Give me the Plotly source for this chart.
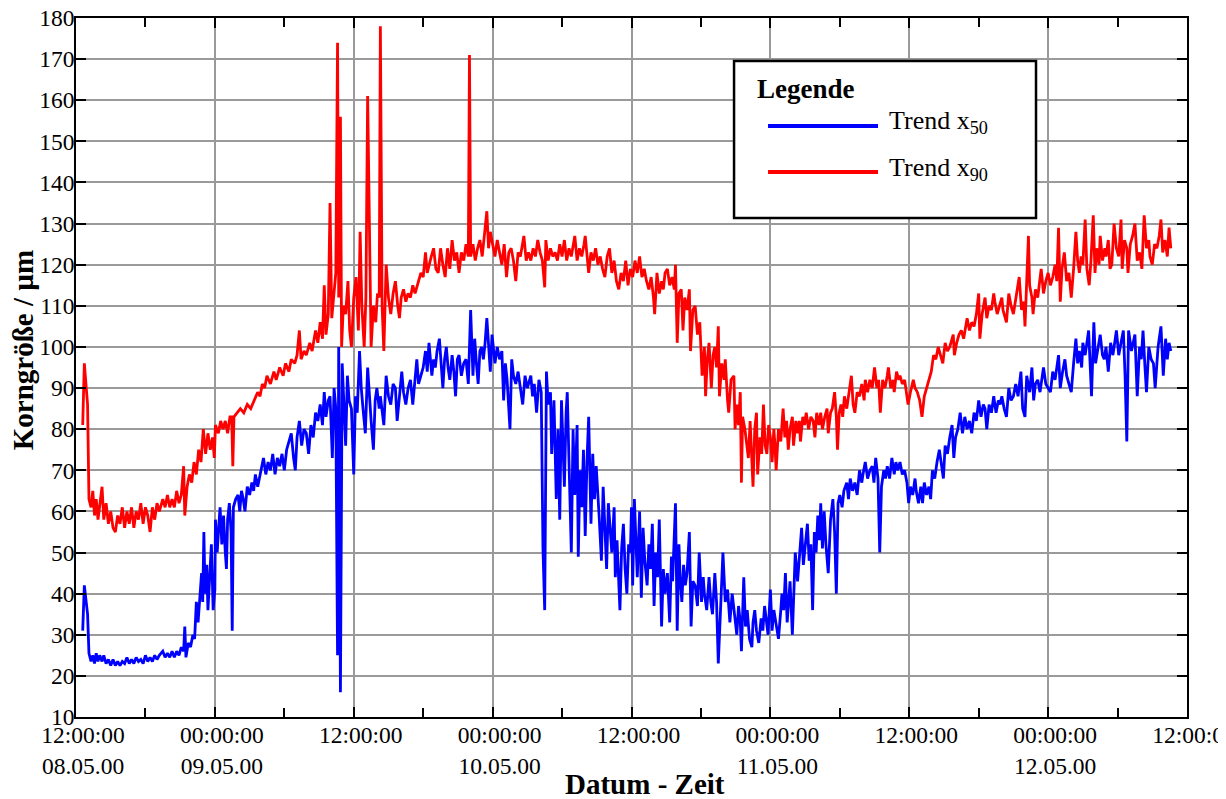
import plotly.graph_objects as go

# time in hours since 08.05.00 12:00:00
red_h = [0.58,0.72,1.0,1.12,1.3,1.45,1.6,1.75,1.9,2.05,2.25,2.4,2.6,2.8,3.0,3.2,3.4,3.6,3.8,4.0,4.2,4.4,4.6,4.8,5.0,5.2,5.4,5.6,5.8,6.0,6.2,6.4,6.6,6.8,7.0,7.2,7.5,7.7,7.9,8.1,8.3,8.5,8.7,8.9,9.1,9.3,9.4,9.6,9.8,10.0,10.2,10.4,10.6,10.8,11.0,11.2,11.4,11.6,11.8,11.95,12.05,12.3,12.5,12.7,12.9,13.1,13.3,13.45,13.55,13.65,13.9,14.2,14.5,14.8,15.1,15.4,15.7,15.9,16.1,16.3,16.5,16.8,17.1,17.3,17.6,17.9,18.1,18.4,18.6,18.9,19.1,19.3,19.45,19.7,19.9,20.2,20.4,20.7,20.9,21.1,21.3,21.45,21.6,21.8,21.95,22.1,22.3,22.45,22.6,22.7,22.85,22.95,23.1,23.3,23.5,23.65,23.8,24.0,24.2,24.4,24.55,24.7,24.9,25.05,25.2,25.35,25.5,25.7,25.9,26.05,26.2,26.3,26.45,26.6,26.8,27.0,27.2,27.4,27.6,27.8,27.95,28.1,28.3,28.5,28.7,28.9,29.1,29.3,29.6,29.8,30.0,30.2,30.35,30.5,30.7,30.9,31.1,31.3,31.5,31.7,31.9,32.1,32.3,32.5,32.7,32.9,33.1,33.3,33.5,33.7,33.9,34.0,34.1,34.3,34.5,34.7,34.9,35.1,35.3,35.5,35.65,35.8,36.0,36.2,36.4,36.6,36.8,37.0,37.2,37.4,37.6,37.8,38.0,38.2,38.4,38.7,38.9,39.1,39.3,39.5,39.7,39.9,40.1,40.3,40.5,40.6,40.8,41.0,41.2,41.4,41.6,41.8,42.0,42.2,42.4,42.6,42.8,43.1,43.3,43.5,43.7,43.9,44.0,44.3,44.5,44.7,44.9,45.1,45.3,45.5,45.7,45.9,46.1,46.3,46.5,46.7,46.9,47.1,47.3,47.5,47.7,47.9,48.1,48.3,48.5,48.7,48.9,49.1,49.3,49.5,49.7,49.9,50.0,50.2,50.4,50.6,50.75,50.9,51.1,51.3,51.5,51.7,51.8,51.95,52.1,52.3,52.45,52.6,52.8,53.0,53.1,53.3,53.5,53.7,53.9,54.1,54.3,54.4,54.55,54.7,54.9,55.05,55.2,55.35,55.5,55.6,55.8,56.0,56.1,56.3,56.4,56.6,56.85,56.95,57.1,57.25,57.4,57.5,57.6,57.8,57.95,58.1,58.25,58.4,58.5,58.65,58.8,58.9,59.1,59.25,59.4,59.55,59.7,59.85,60.0,60.15,60.3,60.4,60.5,60.7,60.9,61.1,61.25,61.4,61.55,61.7,61.9,62.0,62.2,62.35,62.5,62.6,62.8,62.95,63.1,63.3,63.5,63.7,63.85,64.0,64.2,64.35,64.5,64.7,64.9,65.0,65.2,65.35,65.55,65.7,65.8,65.95,66.1,66.25,66.4,66.6,66.8,67.0,67.15,67.3,67.5,67.7,67.9,68.1,68.2,68.4,68.6,68.8,69.0,69.2,69.35,69.5,69.7,69.9,70.1,70.2,70.4,70.6,70.7,70.9,71.1,71.2,71.4,71.6,71.75,71.9,72.1,72.35,72.5,72.7,72.9,73.1,73.3,73.5,73.7,73.9,74.1,74.3,74.5,74.7,74.9,75.1,75.3,75.5,75.8,75.9,76.1,76.3,76.5,76.7,76.9,77.0,77.2,77.4,77.6,77.8,78.0,78.1,78.3,78.55,78.7,78.9,79.1,79.3,79.4,79.6,79.8,80.0,80.1,80.4,80.6,80.8,81.0,81.2,81.3,81.5,81.7,81.9,82.0,82.3,82.4,82.6,82.7,82.9,83.1,83.4,83.6,83.8,84.0,84.2,84.4,84.6,84.75,84.9,85.05,85.2,85.4,85.6,85.8,86.0,86.2,86.4,86.55,86.7,86.85,87.0,87.2,87.35,87.55,87.7,87.9,88.05,88.2,88.4,88.5,88.7,88.9,89.0,89.2,89.35,89.5,89.7,89.9,90.1,90.3,90.4,90.6,90.8,90.9,91.1,91.3,91.5,91.7,91.9,92.1,92.3,92.5,92.7,92.8,93.0,93.2,93.4,93.6,93.75,93.9,94.1,94.3,94.45,94.6]
red_v = [81,96,86,63,61,65,59,63,58,62,66,58,62,57,60,56,55,59,57,61,56,60,57,61,56,60,58,62,57,61,59,55,61,58,62,60,63,61,64,61,63,61,65,62,64,71,59,66,69,67,72,69,75,72,80,74,79,75,78,73,81,79,82,80,82,79,83,83,71,83,84,85,84,86,85,87,89,88,91,90,93,91,94,92,95,93,96,94,97,96,98,104,97,99,98,101,99,104,101,106,102,115,103,108,135,107,113,118,174,112,156,100,110,108,116,104,100,112,117,104,128,110,100,112,161,125,100,110,106,113,112,178,110,99,120,112,108,113,116,110,107,112,114,111,113,112,115,113,116,118,117,123,118,120,122,124,119,118,124,120,117,124,119,126,121,123,118,123,121,125,122,171,122,125,121,124,126,122,127,133,124,128,125,122,126,123,120,125,117,123,124,121,116,123,122,127,121,123,121,124,122,126,123,121,114.5,126,121,124,122,123,121,125,122,126,121,124,122,127,121,124,122,125,127,118,123,121,124,120,122,119,117,122,124,118,121,116,114,118,116,121,115,119,117,121,118,122,117,119,116,114,117,112,108,118,113,116,114,118,119,115,117,114,120,101,113,114,104,112,109,114,99,109,110,103,106,93,100,88,97,101,90,98,100,95,105,88,96,92,97,87,84,92,93,80,86,81,89,67,83,80,76,73,82,74,66,80,84,69,78,74,86,76,74,81,78,72,80,76,70,80,77,85,78,82,75,80,83,76,82,79,82,77,83,81,84,80,83,82,78,84,81,84,80,83,85,79,84,85,89,83,75,84,86,83,88,85,89,93,86,84,89,88,91,87,92,89,92,90,95,90,92,84,92,90,93,95,90,92,89,94,92,93,91,92,89,86,89,92,90,89,87,83,88,90,92,94,98,97,100,98,96,101,99,100,103,98,101,103,104,102,105,107,104,106,105,108,113,102,108,112,107,110,109,113,111,108,110,112,109,106,113,110,108,112,114,117,109,111,105,127,115,112,108,114,112,119,113,116,118,115,117,120,116,129,111,119,123,116,118,112,119,128,121,118,122,120,131,119,115,121,132,118,124,120,127,121,124,122,126,119,120,130,124,122,131,119,126,124,118,125,127,130,121,123,119,132,124,126,122,120,125,124,127,131,123,126,122,129,124]

blue_h = [0.58,0.72,1.0,1.12,1.3,1.45,1.6,1.75,1.9,2.05,2.25,2.4,2.6,2.8,3.0,3.2,3.4,3.6,3.8,4.0,4.2,4.4,4.6,4.8,5.0,5.2,5.4,5.6,5.8,6.0,6.2,6.4,6.6,6.8,7.0,7.2,7.5,7.7,7.9,8.1,8.3,8.5,8.7,8.9,9.1,9.3,9.4,9.5,9.7,9.9,10.1,10.25,10.4,10.55,10.7,10.85,10.95,11.05,11.15,11.3,11.4,11.55,11.7,11.85,12.0,12.05,12.2,12.35,12.45,12.6,12.75,12.9,13.0,13.1,13.25,13.4,13.5,13.6,13.8,14.0,14.15,14.3,14.45,14.6,14.8,15.0,15.2,15.35,15.5,15.7,15.85,16.0,16.2,16.4,16.6,16.8,17.0,17.2,17.4,17.6,17.8,18.0,18.2,18.4,18.6,18.8,18.95,19.1,19.3,19.5,19.7,19.9,20.1,20.3,20.5,20.7,20.9,21.1,21.3,21.45,21.6,21.8,21.95,22.15,22.3,22.45,22.6,22.7,22.85,23.0,23.15,23.3,23.45,23.6,23.8,24.0,24.15,24.3,24.5,24.65,24.8,25.0,25.2,25.35,25.5,25.7,25.85,26.0,26.2,26.3,26.5,26.6,26.8,27.0,27.2,27.4,27.6,27.75,27.95,28.15,28.3,28.5,28.7,28.9,29.1,29.3,29.45,29.6,29.8,30.0,30.2,30.35,30.5,30.75,30.9,31.05,31.2,31.4,31.55,31.7,31.85,32.0,32.15,32.3,32.5,32.65,32.8,32.95,33.1,33.3,33.5,33.7,33.9,34.1,34.3,34.45,34.6,34.75,34.9,35.05,35.2,35.35,35.5,35.65,35.8,35.95,36.1,36.2,36.4,36.6,36.8,36.95,37.1,37.25,37.5,37.65,37.8,38.0,38.2,38.4,38.6,38.8,39.0,39.3,39.45,39.6,39.8,40.0,40.2,40.35,40.5,40.65,40.8,41.0,41.1,41.3,41.5,41.65,41.8,41.95,42.1,42.2,42.35,42.45,42.6,42.8,42.95,43.1,43.3,43.4,43.55,43.7,43.85,44.0,44.15,44.3,44.5,44.65,44.8,44.95,45.2,45.4,45.55,45.7,45.85,46.0,46.15,46.3,46.5,46.6,46.75,46.9,47.0,47.15,47.3,47.45,47.6,47.75,47.9,48.0,48.1,48.25,48.4,48.5,48.7,48.85,49.0,49.15,49.35,49.5,49.65,49.8,49.95,50.1,50.25,50.4,50.6,50.75,50.9,51.1,51.3,51.45,51.55,51.8,51.95,52.1,52.2,52.35,52.5,52.65,52.8,53.0,53.15,53.3,53.5,53.7,53.85,54.05,54.2,54.3,54.5,54.7,54.85,55.0,55.2,55.35,55.5,55.65,55.8,55.9,56.1,56.3,56.5,56.7,56.9,57.1,57.25,57.4,57.5,57.7,57.85,58.0,58.2,58.4,58.5,58.65,58.8,59.0,59.2,59.35,59.5,59.65,59.8,60.0,60.15,60.3,60.4,60.55,60.7,60.9,61.0,61.15,61.3,61.45,61.6,61.7,61.9,62.05,62.15,62.35,62.5,62.7,62.85,63.0,63.2,63.35,63.5,63.65,63.8,63.95,64.1,64.25,64.35,64.5,64.65,64.8,65.0,65.2,65.4,65.55,65.7,65.85,66.0,66.2,66.35,66.6,66.75,66.9,67.1,67.3,67.5,67.7,67.9,68.0,68.2,68.4,68.6,68.8,68.95,69.1,69.3,69.45,69.6,69.8,69.95,70.1,70.3,70.5,70.7,70.85,71.0,71.2,71.4,71.6,71.8,71.95,72.1,72.3,72.5,72.6,72.8,73.0,73.15,73.3,73.5,73.7,73.85,74.0,74.2,74.4,74.6,74.8,74.95,75.1,75.3,75.5,75.7,75.85,76.0,76.2,76.4,76.6,76.8,77.0,77.2,77.4,77.6,77.8,78.0,78.2,78.4,78.55,78.7,78.9,79.1,79.3,79.5,79.7,79.85,80.0,80.2,80.4,80.6,80.8,81.0,81.2,81.4,81.65,81.8,82.0,82.15,82.4,82.6,82.75,82.9,83.1,83.3,83.6,83.8,84.0,84.2,84.4,84.6,84.9,85.05,85.25,85.45,85.6,85.8,86.0,86.2,86.4,86.55,86.7,86.9,87.0,87.2,87.5,87.75,87.95,88.1,88.3,88.5,88.7,88.85,89.0,89.2,89.4,89.6,89.9,90.1,90.3,90.5,90.65,90.8,90.95,91.2,91.35,91.5,91.7,91.9,92.05,92.2,92.35,92.5,92.7,92.9,93.1,93.25,93.5,93.75,93.95,94.15,94.3,94.45,94.6]
blue_v = [31,42,35,25.5,23.5,25,23,25.5,23.5,25,23.5,25,23,24,22.5,24,22.5,23.5,22.5,23.5,23,24.5,23,24,23,24.5,23.5,24,23,25,23.5,24.5,23.5,25,24,25,26,24.5,25.5,24.5,26,24.5,26,25,27,26,32,24.5,28,27,30,29,38,33,39,45,38,55,40,47,36,43,52,36,41,58,50,57,61,52,59,50,46,58,62,55,31,61,63,64,60,65,63,60,66,64,67,65,69,66,68,70,73,69,72,70,74,69,73,71,74,70,75,77,79,73,70,78,82,76,80,79,74,81,78,84,82,86,81,89,83,87,88,73,90,85,25,100,16,96,85,76,93,87,85,69,88,84,99,90,85,79,95,88,82,75,87,90,85,88,83,81,93,88,86,91,90,82,88,94,89,86,90,92,86,92,97,91,93,95,99,94,101,93,97,95,99,102,96,90,97,100,95,92,98,94,88,97,98,93,96,97,91,109,93,102,96,91,99,100,97,101,107,99,94,103,98,96,100,97,99,87,96,92,80,97,93,91,94,90,86,93,90,93,88,91,84,92,89,51,36,94,86,89,74,87,63,80,58,87,76,66,84,89,72,50,80,64,81,49,70,61,75,54,72,83,57,74,63,71,59,48,66,55,46,62,57,50,61,44,53,41,36,51,57,46,40,52,50,61,42,63,48,44,60,39,56,48,42,52,46,57,37,50,44,58,32,46,40,45,33,49,43,62,31,52,44,38,47,42,45,55,32,43,42,37,50,38,44,40,36,44,38,35,45,38,23,35,43,50,38,41,33,40,35,30,37,33,26,44,32,36,29,27,33,36,31,28,34,31,37,33,30,41,31,36,34,31,29,36,40,36,45,33,40,43,30,41,50,43,49,56,47,51,57,48,52,36,55,50,59,53,62,51,60,52,45,58,63,55,40,62,64,61,65,67,63,68,65,67,64,70,67,69,72,68,70,71,67,73,68,50,66,70,68,71,68,73,69,72,70,72,69,70,67,62,66,64,68,65,62,66,62,67,64,66,63,70,68,72,75,71,68,76,74,78,81,73,78,80,84,79,83,80,82,79,84,82,87,83,86,85,80,86,84,88,84,87,86,88,85,83,90,87,88,91,88,94,85,83,93,89,95,87,91,92,89,95,91,90,89,94,92,98,90,94,97,93,91,89,96,102,96,99,95,101,98,104,88,106,96,100,103,98,97,100,94,101,98,104,98,101,104,93,77,104,99,101,103,88,100,97,104,96,89,100,97,96,90,100,105,93,102,97,101,99]

tick_vals = [0, 12, 24, 36, 48, 60, 72, 84, 96]
tick_text = ["12:00:00<br>08.05.00", "00:00:00<br>09.05.00", "12:00:00",
             "00:00:00<br>10.05.00", "12:00:00", "00:00:00<br>11.05.00",
             "12:00:00", "00:00:00<br>12.05.00", "12:00:00"]

series_names = ["Trend x<sub>50</sub>", "Trend x<sub>90</sub>"]
series_colors = ["#0000FF", "#FF0000"]

FONT = "Liberation Serif, Times New Roman, serif"

fig = go.Figure()
fig.add_trace(go.Scatter(x=blue_h, y=blue_v, mode="lines", name=series_names[0],
                         line=dict(color=series_colors[0], width=2.8), showlegend=False))
fig.add_trace(go.Scatter(x=red_h, y=red_v, mode="lines", name=series_names[1],
                         line=dict(color=series_colors[1], width=2.8), showlegend=False))

axis_common = dict(showline=True, linecolor="black", linewidth=1.5, mirror="ticks",
                   ticks="inside", ticklen=10, tickcolor="black", tickwidth=1.5,
                   showgrid=True, gridcolor="#9a9a9a", gridwidth=1.5, zeroline=False,
                   ticklabeloverflow="allow",
                   tickfont=dict(family=FONT, size=23.5, color="black"))

fig.update_xaxes(range=[0, 96], tickmode="array", tickvals=tick_vals, ticktext=tick_text,
                 minor=dict(dtick=6, tick0=0, ticks="inside", ticklen=9, tickcolor="black",
                            tickwidth=1.5, showgrid=False),
                 ticklabelshift=7, ticklabelstandoff=-4,
                 **axis_common)
fig.update_yaxes(range=[10, 180], tickmode="linear", tick0=10, dtick=10,
                 ticklabelstandoff=-5,
                 **axis_common)

# axis titles
fig.add_annotation(xref="paper", yref="paper", x=0.512, y=-0.0965, xanchor="center", yanchor="middle",
                   text="<b>Datum - Zeit</b>", showarrow=False,
                   font=dict(family=FONT, size=29, color="black"))
fig.add_annotation(xref="paper", yref="paper", x=-0.0475, y=0.525, xanchor="center", yanchor="middle",
                   text="<b>Korngröße / µm</b>", showarrow=False, textangle=-90,
                   font=dict(family=FONT, size=29, color="black"))

# legend box (drawn manually to match the original legend layout)
lx0, lx1, ly0, ly1 = 0.5923, 0.8641, 0.7139, 0.9385
fig.add_shape(type="rect", xref="paper", yref="paper", x0=lx0, x1=lx1, y0=ly0, y1=ly1,
              line=dict(color="black", width=2.5), fillcolor="white", layer="above")
fig.add_annotation(xref="paper", yref="paper", x=0.6112, y=0.899, xanchor="left", yanchor="middle",
                   text="<b>Legende</b>", showarrow=False,
                   font=dict(family=FONT, size=27, color="black"))
for i, (ly, ty) in enumerate([(0.8455, 0.851), (0.7797, 0.784)]):
    fig.add_shape(type="line", xref="paper", yref="paper", x0=0.6229, x1=0.7219, y0=ly, y1=ly,
                  line=dict(color=series_colors[i], width=4), layer="above")
    fig.add_annotation(xref="paper", yref="paper", x=0.730, y=ty, xanchor="left", yanchor="middle",
                       text=series_names[i], showarrow=False,
                       font=dict(family=FONT, size=26, color="black"))

# the page adds an 8 px body margin, so the figure is 8 px smaller and margins shifted
fig.update_layout(width=1218, height=791, plot_bgcolor="white", paper_bgcolor="white",
                  margin=dict(l=68, r=39, t=10, b=82, autoexpand=False),
                  font=dict(family=FONT, color="black"))

fig.write_html("out.html")
